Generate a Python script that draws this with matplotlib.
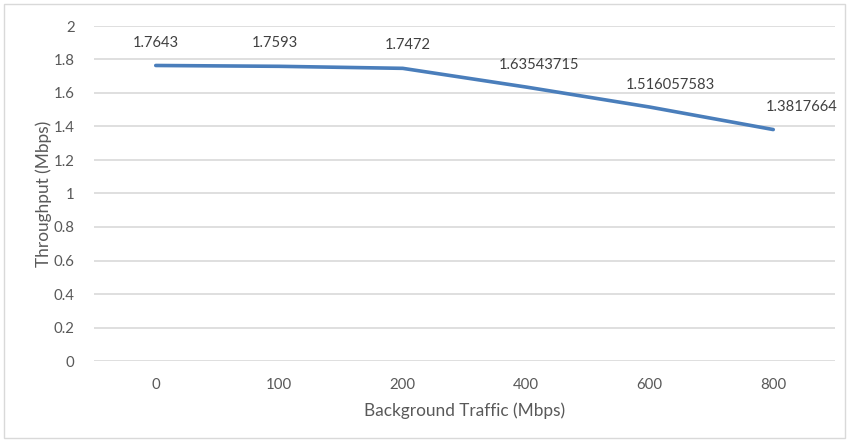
import matplotlib.pyplot as plt
from matplotlib.patches import Rectangle

# data
traffic = ['0', '100', '200', '400', '600', '800']
throughput = [1.7643, 1.7593, 1.7472, 1.63543715, 1.516057583, 1.3817664]
labels = ['1.7643', '1.7593', '1.7472', '1.63543715', '1.516057583', '1.3817664']
yticks = [0, 0.2, 0.4, 0.6, 0.8, 1, 1.2, 1.4, 1.6, 1.8, 2]

# label offsets (pixels) - hand placed like in the excel chart
offsets = [(0, 22), (-4, 23), (5, 23), (13, 22), (21, 22), (28, 23)]

plt.rcParams['font.family'] = ['Lato', 'DejaVu Sans']
gray = '#595959'

fig = plt.figure(figsize=(8.58, 4.40), dpi=100)
ax = fig.add_axes([94/858, 1 - 361/440, (835-94)/858, (361-26)/440])

x = range(len(traffic))
ax.plot(x, throughput, color='#4A7EBB', lw=2.6, solid_capstyle='round', zorder=3)

for i, (v, s) in enumerate(zip(throughput, labels)):
    ax.annotate(s, (i, v), xytext=offsets[i], textcoords='offset pixels',
                ha='center', va='center', fontsize=10.6, color='#404040')

ax.set_xlim(-0.5, len(traffic) - 0.5)
ax.set_ylim(0, 2)
ax.set_xticks(list(x))
ax.set_xticklabels(traffic)
ax.set_yticks(yticks)
ax.set_yticklabels([f'{t:g}' for t in yticks])
ax.tick_params(length=0, labelsize=10.8, labelcolor=gray, pad=12)
ax.tick_params(axis='y', pad=14)
ax.grid(axis='y', color='#D9D9D9', lw=1.2)
ax.set_axisbelow(True)
for sp in ax.spines.values():
    sp.set_visible(False)

ax.set_xlabel('Background Traffic (Mbps)', fontsize=12.4, color=gray, labelpad=8)
ax.set_ylabel('Throughput (Mbps)', fontsize=12.4, color=gray, labelpad=1)

# chart border
fig.patches.append(Rectangle((4/858, 2/440), 841/858, 434/440, transform=fig.transFigure,
                             fill=False, edgecolor='#D9D9D9', lw=1))

fig.savefig('out.png', dpi=100)
